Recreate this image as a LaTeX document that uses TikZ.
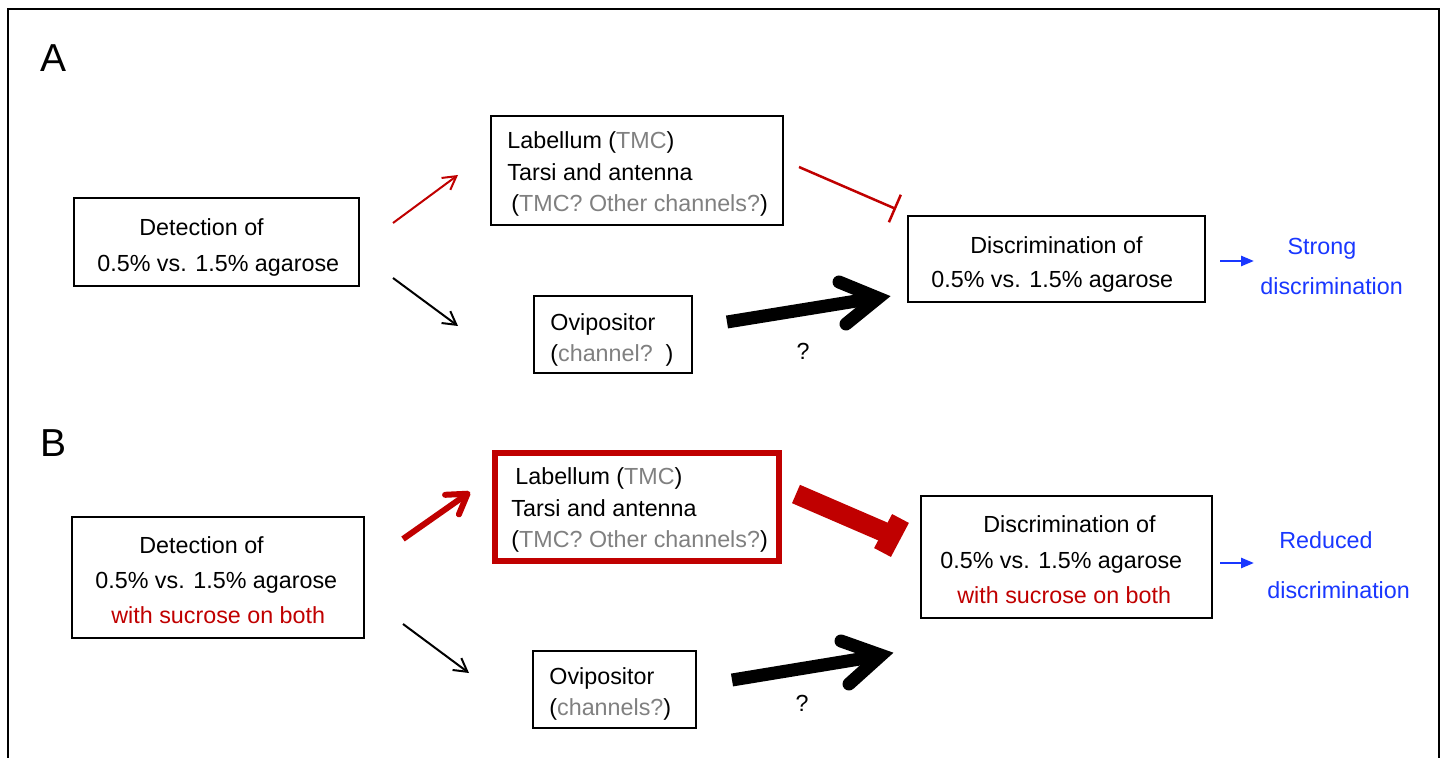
\documentclass[tikz,border=0pt]{standalone}
\usepackage{fontspec}
\setmainfont{Liberation Sans}
\usetikzlibrary{arrows.meta,fit}
\definecolor{tred}{RGB}{192,0,0}
\definecolor{tgray}{RGB}{128,128,128}
\definecolor{tblue}{RGB}{25,55,255}
\begin{document}
\begin{tikzpicture}[x=0.5pt,y=-0.5pt,
  box/.style={draw=black,line width=1pt,inner sep=0pt},
  redbox/.style={draw=tred,line width=2.8pt,inner sep=0pt},
  txt/.style={anchor=west,inner sep=0pt,text height=8.35pt,text depth=0pt,font=\fontsize{11.65pt}{14pt}\selectfont},
  ctxt/.style={txt,anchor=center},
  panel/.style={anchor=west,inner sep=0pt,text height=14pt,text depth=0pt,font=\fontsize{19.5pt}{22pt}\selectfont},
  thinarrow/.style={line width=1pt,-{Straight Barb[length=6.5pt,width=7.4pt]}},
  boldarrow/.style={line width=3pt,-{Straight Barb[length=9.5pt,width=12pt,round]}},
  thickshaft/.style={line width=6.5pt,line cap=butt},
  chevron/.style={line width=6.5pt,line cap=round,line join=miter},
  bluearrow/.style={tblue,line width=1.25pt,-{Triangle[length=6.5pt,width=5pt]}},
  frame/.style={line width=0.75pt}
]
\useasboundingbox (0,0) rectangle (1444,758);
\fill[white] (0,0) rectangle (1444,758);
% outer frame
\coordinate (fbl) at (8,758);
\coordinate (ftl) at (8,9);
\coordinate (ftr) at (1439,9);
\coordinate (fbr) at (1439,758);
\draw[frame] (fbl) -- (ftl) -- (ftr) -- (fbr);

% ---------------- Panel A ----------------
\node[panel] (labA) at (40,58) {A};

\node[box,fit={(74,198) (359,286)}] (a1) {};
\node[txt] (a1t1) at (139,227) {Detection of};
\node[txt] (a1t2) at (97,263) {0.5\% vs. 1.5\% agarose};

\node[box,fit={(491,116) (783,225)}] (a2) {};
\node[txt] (a2t1) at (507,140) {Labellum (\textcolor{tgray}{TMC})};
\node[txt] (a2t2) at (507,172) {Tarsi and antenna};
\node[txt] (a2t3) at (511,203) {(\textcolor{tgray}{TMC? Other channels?})};

\node[box,fit={(534,296) (692,373)}] (a3) {};
\node[txt] (a3t1) at (550,322) {Ovipositor};
\node[txt] (a3t2) at (550,353) {(\textcolor{tgray}{channel?}\ \ )};

\node[box,fit={(908,216) (1205,302)}] (a4) {};
\node[txt] (a4t1) at (970,245) {Discrimination of};
\node[txt] (a4t2) at (931,279) {0.5\% vs. 1.5\% agarose};

\node[ctxt,text=tblue] (a5t1) at (1322,246) {Strong};
\node[txt,text=tblue] (a5t2) at (1260,286) {discrimination};
\node[ctxt] (aq) at (803,351) {?};

% connectors A
\coordinate (aRs) at (393,223); \coordinate (aRe) at (458,175);
\coordinate (aKs) at (393,278); \coordinate (aKe) at (458,326);
\draw[tred,thinarrow] (aRs) -- (aRe);
\draw[thinarrow] (aKs) -- (aKe);

\coordinate (aIs) at (799,167); \coordinate (aIe) at (896,209);
\draw[tred,line width=1.25pt,-{Bar[width=15pt]}] (aIs) -- (aIe);

\coordinate (aTs) at (727,322); \coordinate (aTe) at (875,298);
\coordinate (aTu) at (839,282); \coordinate (aTv) at (878,298); \coordinate (aTl) at (846,324);
\draw[thickshaft] (aTs) -- (aTe);
\draw[chevron] (aTu) -- (aTv) -- (aTl);

\coordinate (aBs) at (1220,261); \coordinate (aBe) at (1254,261);
\draw[bluearrow] (aBs) -- (aBe);

% ---------------- Panel B ----------------
\node[panel] (labB) at (40,443) {B};

\node[box,fit={(72,517) (364,638)}] (b1) {};
\node[txt] (b1t1) at (139,545) {Detection of};
\node[txt] (b1t2) at (95,580) {0.5\% vs. 1.5\% agarose};
\node[txt,text=tred] (b1t3) at (111,615) {with sucrose on both};

\node[redbox,fit={(495,453) (779,561)}] (b2) {};
\node[txt] (b2t1) at (515,476) {Labellum (\textcolor{tgray}{TMC})};
\node[txt] (b2t2) at (511,508) {Tarsi and antenna};
\node[txt] (b2t3) at (511,539) {(\textcolor{tgray}{TMC? Other channels?})};

\node[box,fit={(533,651) (696,728)}] (b3) {};
\node[txt] (b3t1) at (549,676) {Ovipositor};
\node[txt] (b3t2) at (549,707) {(\textcolor{tgray}{channels?})};

\node[box,fit={(921,496) (1212,618)}] (b4) {};
\node[txt] (b4t1) at (983,524) {Discrimination of};
\node[txt] (b4t2) at (940,560) {0.5\% vs. 1.5\% agarose};
\node[txt,text=tred] (b4t3) at (957,595) {with sucrose on both};

\node[ctxt,text=tblue] (b5t1) at (1326,540) {Reduced};
\node[txt,text=tblue] (b5t2) at (1267,590) {discrimination};
\node[ctxt] (bq) at (802,703) {?};

% connectors B
\coordinate (bRs) at (403,539); \coordinate (bRe) at (470,492);
\coordinate (bKs) at (403,624); \coordinate (bKe) at (469,673);
\draw[tred,boldarrow] (bRs) -- (bRe);
\draw[thinarrow] (bKs) -- (bKe);

\coordinate (bIs) at (796,494); \coordinate (bIe) at (884,532);
\coordinate (bIb1) at (900.5,518.5); \coordinate (bIb2) at (882.5,552.5);
\draw[tred,line width=10pt,line cap=butt] (bIs) -- (bIe);
\draw[tred,line width=9.5pt,line cap=butt] (bIb1) -- (bIb2);

\coordinate (bTs) at (732,680); \coordinate (bTe) at (878,656);
\coordinate (bTu) at (841,641); \coordinate (bTv) at (881,655.2); \coordinate (bTl) at (849,684);
\draw[thickshaft] (bTs) -- (bTe);
\draw[chevron] (bTu) -- (bTv) -- (bTl);

\coordinate (bBs) at (1220,563); \coordinate (bBe) at (1254,563);
\draw[bluearrow] (bBs) -- (bBe);
\end{tikzpicture}
\end{document}
